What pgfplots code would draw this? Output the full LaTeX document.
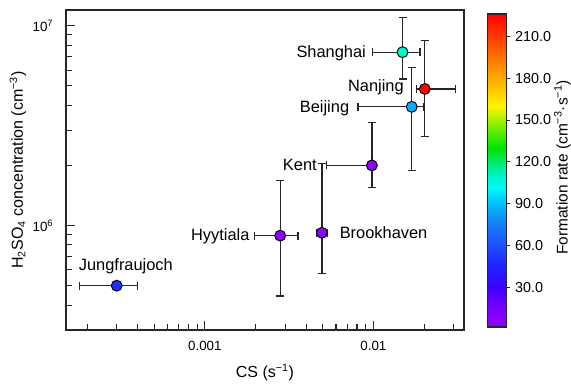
\documentclass[border=0pt]{standalone}
\usepackage{pgfplots}
\usepackage{pgfplotstable}
\pgfplotsset{compat=1.18}
\usepackage{fontspec}
\setmainfont{Liberation Sans}

% Condensation sink (x), H2SO4 concentration (y), their uncertainty ranges,
% and the particle formation rate J used for the marker colour.
\pgfplotstableread{
site          x        exm       exp       y       eym      eyp      J
Jungfraujoch  3.0e-4   1.2e-4    1.0e-4    5.0e5   0        0        50
Hyytiala      2.8e-3   0.82e-3   0.77e-3   8.9e5   4.46e5   7.9e5    4
Brookhaven    4.95e-3  0.35e-3   0.40e-3   9.2e5   3.43e5   1.13e6   4
Kent          9.8e-3   4.55e-3   0         2.0e6   4.5e5    1.29e6   6
Shanghai      0.0149   0.0050    0.0040    7.38e6  1.96e6   3.62e6   108
Nanjing       0.0202   0.0021    0.0106    4.83e6  2.04e6   3.58e6   226
Beijing       0.0169   0.0088    0.0031    3.93e6  2.04e6   2.27e6   86
}\sites

\pgfplotsset{
  colormap={jrate}{
    rgb255(0)=(148,0,255)
    rgb255(14)=(120,0,255)
    rgb255(28)=(60,0,255)
    rgb255(44)=(30,35,255)
    rgb255(60)=(30,85,255)
    rgb255(76)=(20,135,245)
    rgb255(90)=(0,200,255)
    rgb255(100)=(0,250,250)
    rgb255(112)=(0,240,170)
    rgb255(128)=(0,228,0)
    rgb255(142)=(110,236,0)
    rgb255(158)=(255,245,0)
    rgb255(172)=(255,190,0)
    rgb255(185)=(255,145,0)
    rgb255(205)=(255,70,0)
    rgb255(224)=(255,0,0)
  }
}

\begin{document}
\begin{tikzpicture}
\begin{axis}[
  name=main,
  at={(0,0)}, anchor=south west,
  scale only axis, width=298.5pt, height=240pt,
  xmode=log, ymode=log,
  xmin=1.5e-4, xmax=0.0345,
  ymin=3.0e5, ymax=1.2e7,
  xtick={0.001,0.01}, xticklabels={0.001,0.01},
  ytick={1e6,1e7}, yticklabels={10\textsuperscript{6},10\textsuperscript{7}},
  minor xtick={2e-4,3e-4,4e-4,5e-4,6e-4,7e-4,8e-4,9e-4,
               2e-3,3e-3,4e-3,5e-3,6e-3,7e-3,8e-3,9e-3,2e-2,3e-2},
  minor ytick={4e5,5e5,6e5,7e5,8e5,9e5,2e6,3e6,4e6,5e6,6e6,7e6,8e6,9e6},
  tick align=inside, xtick pos=bottom, ytick pos=left,
  major tick length=6.75pt, minor tick length=4.5pt,
  tick style={line width=0.8pt, black!85},
  axis line style={line width=0.9pt, black!85},
  ticklabel style={font=\fontsize{10pt}{12pt}\selectfont},
  xticklabel style={yshift=-5pt},
  yticklabel style={xshift=-6pt},
  xlabel={CS (s\textsuperscript{−1})},
  ylabel={H\textsubscript{2}SO\textsubscript{4} concentration (cm\textsuperscript{−3})},
  label style={font=\fontsize{12pt}{14pt}\selectfont},
  xlabel style={at={(axis description cs:0.5,-0.134)}, anchor=center},
  ylabel style={at={(axis description cs:-0.1206,0.5)}, anchor=center},
  colorbar,
  colormap name=jrate,
  point meta min=1.6, point meta max=226,
  colorbar style={
    scale only axis,
    width=14.25pt, height=234.75pt,
    at={(parent axis.south east)}, anchor=south west,
    xshift=9pt, yshift=2.25pt,
    ytick={30,60,90,120,150,180,210},
    yticklabels={30.0,60.0,90.0,120.0,150.0,180.0,210.0},
    ytick pos=right, tick align=outside,
    major tick length=3pt,
    tick style={line width=0.7pt, black!85},
    axis line style={line width=0.8pt, black!85},
    yticklabel style={font=\fontsize{10.8pt}{13pt}\selectfont},
    ylabel={Formation rate (cm\textsuperscript{−3}·s\textsuperscript{−1})},
    ylabel style={at={(axis description cs:3.95,0.51)}, anchor=center,
                  font=\fontsize{11.6pt}{14pt}\selectfont},
  },
]
% uncertainty ranges, drawn first so the markers sit on top
\addplot[
  draw=none, mark=none, forget plot,
  error bars/.cd,
    x dir=both, x explicit,
    y dir=both, y explicit,
    error bar style={line width=1pt, black!85},
    error mark=|,
    error mark options={draw=black!85, line width=1pt, mark size=3pt},
] table[x=x, y=y,
        x error minus=exm, x error plus=exp,
        y error minus=eym, y error plus=eyp] \sites;

% sites, coloured by formation rate
\addplot[
  scatter, only marks, mark=*, mark size=4.1pt,
  point meta=explicit,
  scatter/use mapped color={draw=black, fill=mapped color, line width=0.7pt},
] table[x=x, y=y, meta=J] \sites;

% site names
\begin{scope}[every node/.style={inner sep=0pt, font=\fontsize{12.3pt}{14pt}\selectfont}]
  \node[anchor=east]   at (axis cs:0.00906,7.26e6) {Shanghai};
  \node[anchor=east]   at (axis cs:0.01520,4.93e6) {Nanjing};
  \node[anchor=east]   at (axis cs:0.00721,3.88e6) {Beijing};
  \node[anchor=east]   at (axis cs:0.00463,2.01e6) {Kent};
  \node[anchor=east]   at (axis cs:0.001845,8.88e5) {Hyytiala};
  \node[anchor=west]   at (axis cs:0.00630,9.25e5) {Brookhaven};
  \node[anchor=center] at (axis cs:3.40e-4,6.25e5) {Jungfraujoch};
\end{scope}
\end{axis}
\pgfresetboundingbox
\path (-49.5pt,-39.75pt) rectangle (378.75pt,247.5pt);
\end{tikzpicture}
\end{document}
